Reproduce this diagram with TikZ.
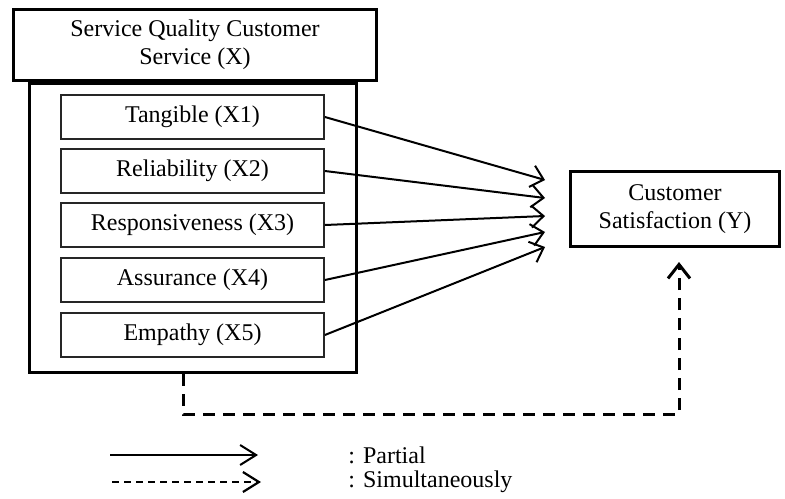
\documentclass[tikz,border=0pt]{standalone}
\usepackage{fontspec}
\setmainfont{Liberation Serif}
\usetikzlibrary{arrows.meta,positioning}

\begin{document}
\begin{tikzpicture}[
  x=0.5pt, y=-0.5pt,
  font=\fontsize{12}{14}\selectfont,
  outerbox/.style={draw, line width=1.5pt, minimum width=163.5pt, minimum height=144.5pt},
  headbox/.style={draw, fill=white, line width=1.5pt, minimum width=181.5pt,
    minimum height=35.5pt, align=center},
  dimbox/.style={draw=black!85, fill=white, line width=0.9pt, minimum width=131.5pt,
    minimum height=22pt},
  outcome/.style={draw, line width=1.5pt, minimum width=104.5pt, minimum height=37.5pt,
    align=center},
  partial/.style={-{Straight Barb[length=6pt,width=11pt]}, line width=1pt},
  simult/.style={-{Straight Barb[length=7pt,width=11pt]}, line width=1.5pt,
    dash pattern=on 6pt off 4pt},
  legendtext/.style={anchor=west, inner sep=0pt}
]
  \useasboundingbox (0,0) rectangle (785,498);

  \node[outerbox] (frame) at (193,228) {};
  \node[headbox] (quality) at (195,45) {Service Quality Customer\\Service (X)};

  \node[dimbox] (x1) at (192.5,117) {Tangible (X1)};
  \node[dimbox] (x2) at (192.5,171) {Reliability (X2)};
  \node[dimbox] (x3) at (192.5,225) {Responsiveness (X3)};
  \node[dimbox] (x4) at (192.5,280) {Assurance (X4)};
  \node[dimbox] (x5) at (192.5,335) {Empathy (X5)};

  \node[outcome] (satisf) at (675,209) {Customer\\Satisfaction (Y)};

  % fan of partial arrows
  \coordinate (t1) at (545,180);
  \coordinate (t2) at (545,198);
  \coordinate (t3) at (545,216);
  \coordinate (t4) at (545,232);
  \coordinate (t5) at (545,247);
  \foreach \i in {1,...,5}
    \draw[partial] (x\i.east) -- (t\i);

  % simultaneous path
  \coordinate (dl) at (183,414);
  \coordinate (dr) at (679,414);
  \draw[simult, shorten >=7pt] (frame.south -| dl) -- (dl) -- (dr) -- (dr |- satisf.south);

  % legend
  \coordinate (la) at (110,455);
  \coordinate (lb) at (258,455);
  \coordinate (lc) at (112,482);
  \coordinate (ld) at (261,482);
  \draw[partial, -{Straight Barb[length=8pt,width=10pt]}] (la) -- (lb);
  \draw[simult, -{Straight Barb[length=8pt,width=10pt]}, line width=1.1pt,
    dash pattern=on 3.5pt off 2.5pt] (lc) -- (ld);
  \node[legendtext] (lpartial) at (348,455) {: Partial};
  \node[legendtext] (lsimult) at (348,482) {: Simultaneously};
\end{tikzpicture}
\end{document}
